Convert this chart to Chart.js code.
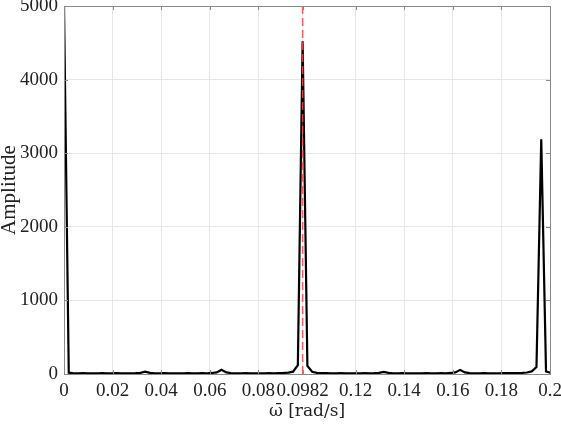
<!DOCTYPE html>
<html><head><meta charset="utf-8">
<script src="https://cdn.jsdelivr.net/npm/chart.js@4/dist/chart.umd.min.js"></script>
<style>html,body{margin:0;padding:0;background:#fff}#wrap{width:561px;height:424px}</style>
</head><body><div id="wrap"><canvas id="c" width="561" height="424"></canvas></div>
<script>
// frequency resolution of the spectrum [rad/s]
const freqStep = 0.001964;
// amplitude at each frequency bin (bin i is at i*freqStep)
const amplitude = [
  5000, 18, 10, 9, 11, 8, 10, 9, 12, 10,
  9, 11, 10, 8, 10, 12, 16, 32, 15, 10,
  9, 11, 10, 8, 10, 9, 11, 10, 9, 12,
  10, 14, 22, 58, 22, 12, 10, 9, 11, 10,
  8, 10, 9, 11, 10, 12, 14, 18, 32, 120,
  4520, 110, 30, 16, 12, 11, 10, 9, 11, 10,
  8, 10, 9, 11, 10, 12, 16, 28, 15, 10,
  9, 11, 10, 8, 10, 9, 11, 10, 9, 12,
  10, 14, 22, 56, 22, 12, 10, 9, 11, 10,
  8, 10, 12, 11, 12, 13, 15, 20, 35, 95,
  3190, 35, 14
];
const markerFreq = 0.0982;
const xTickValues = [0, 0.02, 0.04, 0.06, 0.08, 0.0982, 0.12, 0.14, 0.16, 0.18, 0.2];
const xTickLabels = ['0', '0.02', '0.04', '0.06', '0.08', '0.0982', '0.12', '0.14', '0.16', '0.18', '0.2'];
const yTickValues = [0, 1000, 2000, 3000, 4000, 5000];
const yTickLabels = ['0', '1000', '2000', '3000', '4000', '5000'];

const spectrum = amplitude.map((a, i) => ({x: i * freqStep, y: a}));
const markerLine = [{x: markerFreq, y: 0}, {x: markerFreq, y: 5000}];

const SERIF = '"Liberation Serif", "Times New Roman", serif';

const boxPlugin = {
  id: 'box',
  afterDatasetsDraw(chart) {
    const {ctx, chartArea: a, scales} = chart;
    ctx.save();
    ctx.strokeStyle = '#8a8a8a';
    ctx.lineWidth = 1;
    ctx.beginPath();
    const L = 4;
    yTickValues.forEach(v => {
      const y = Math.round(scales.y.getPixelForValue(v)) + 0.5;
      ctx.moveTo(a.left, y); ctx.lineTo(a.left + L, y);
      ctx.moveTo(a.right, y); ctx.lineTo(a.right - L, y);
    });
    xTickValues.forEach(v => {
      const x = Math.round(scales.x.getPixelForValue(v)) + 0.5;
      ctx.moveTo(x, a.top); ctx.lineTo(x, a.top + L);
      ctx.moveTo(x, a.bottom); ctx.lineTo(x, a.bottom - L);
    });
    ctx.stroke();
    ctx.strokeRect(Math.round(a.left) + 0.5, Math.round(a.top) + 0.5,
      Math.round(a.right - a.left), Math.round(a.bottom - a.top));
    ctx.restore();
  }
};

new Chart(document.getElementById('c'), {
  type: 'line',
  data: {
    datasets: [
      {
        data: markerLine,
        borderColor: 'rgba(255,70,70,0.85)',
        borderWidth: 1.5,
        borderDash: [8, 4],
        pointRadius: 0,
        order: 0
      },
      {
        data: spectrum,
        borderColor: '#000',
        borderWidth: 2.2,
        pointRadius: 0,
        tension: 0,
        order: 1
      }
    ]
  },
  options: {
    responsive: false,
    animation: false,
    devicePixelRatio: 1,
    layout: {padding: {top: 6, right: 11, left: 0, bottom: 0}},
    plugins: {legend: {display: false}, tooltip: {enabled: false}},
    scales: {
      x: {
        type: 'linear',
        min: 0, max: 0.2,
        afterBuildTicks: s => { s.ticks = xTickValues.map(v => ({value: v})); },
        afterFit: s => { s.height = 50; s.paddingLeft = 0; s.paddingRight = 0; },
        ticks: {
          autoSkip: false, maxRotation: 0, padding: 6,
          color: '#222',
          font: {family: SERIF, size: 19},
          callback: (v, i) => xTickLabels[i]
        },
        grid: {color: '#e6e6e6', drawTicks: false},
        border: {display: false},
        title: {
          display: true, text: 'ω̄ [rad/s]', color: '#222',
          font: {family: '"DejaVu Serif", serif', size: 17},
          padding: {top: 0, bottom: 2}
        }
      },
      y: {
        min: 0, max: 5000,
        afterBuildTicks: s => { s.ticks = yTickValues.map(v => ({value: v})); },
        afterFit: s => { s.width = 64; s.paddingTop = 0; s.paddingBottom = 0; },
        ticks: {
          padding: 6, color: '#222',
          font: {family: SERIF, size: 19},
          callback: (v, i) => yTickLabels[i]
        },
        grid: {color: '#e6e6e6', drawTicks: false},
        border: {display: false},
        title: {
          display: true, text: 'Amplitude', color: '#222',
          font: {family: SERIF, size: 21},
          padding: {top: -3, bottom: 0}
        }
      }
    }
  },
  plugins: [boxPlugin]
});
</script>
</body></html>
